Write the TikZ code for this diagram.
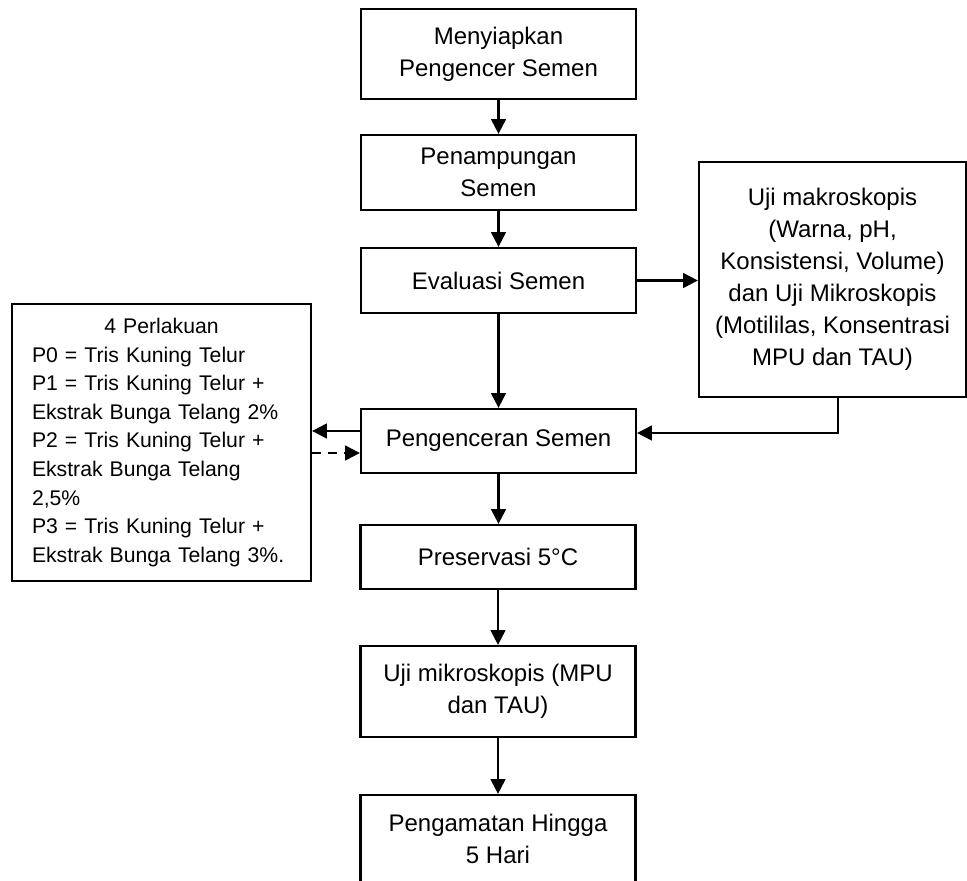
\documentclass[tikz,border=0pt]{standalone}
\usepackage{fontspec}
\setmainfont{Liberation Sans}
\usetikzlibrary{arrows.meta,calc}
\begin{document}
\begin{tikzpicture}[x=0.75pt,y=-0.75pt,
  box/.style={draw,line width=1.7pt,inner sep=0pt,align=center,minimum width=206.25pt,
    font=\fontsize{18pt}{24pt}\selectfont},
  arr/.style={line width=1.6pt,-{Triangle[length=11pt,width=11pt]}},
  darr/.style={arr,dash pattern=on 7pt off 5pt},
]
\useasboundingbox (0,0) rectangle (967,881);
\begin{scope}
\clip (0,0) rectangle (967,881);
\node[box,minimum height=67.5pt] (b1) at (498.5,54) {Menyiapkan\\Pengencer Semen};
\node[box,minimum height=56.25pt] (b2) at (498.5,172.5) {Penampungan\\Semen};
\node[box,minimum height=48.75pt] (ev) at (498.5,280.5) {Evaluasi Semen};
\node[box,minimum height=48pt] (pg) at (498.5,441) {Pengenceran Semen};
\node[box,minimum height=48pt] (pr) at (498,557) {Preservasi 5°C};
\node[box,minimum height=68.25pt] (um) at (498,691.5) {Uji mikroskopis (MPU\\dan TAU)};
\node[box,minimum height=66pt] (ph) at (498,839) {Pengamatan Hingga\\5 Hari};
\node[box,minimum width=200.25pt,minimum height=176.25pt] (rb) at (832.5,279.5)
  {Uji makroskopis\\(Warna, pH,\\Konsistensi, Volume)\\dan Uji Mikroskopis\\(Motililas, Konsentrasi\\MPU dan TAU)};
\node[draw,line width=1.7pt,inner sep=0pt,minimum width=224.25pt,minimum height=207.75pt,
  text width=194.25pt,font=\fontsize{15.9pt}{21.4pt}\selectfont] (lb) at (161.5,442.5)
  {\centering 4 Perlakuan\par\raggedright
   P0 = Tris Kuning Telur\\
   P1 = Tris Kuning Telur +\\
   Ekstrak Bunga Telang 2\%\\
   P2 = Tris Kuning Telur +\\
   Ekstrak Bunga Telang\\
   2,5\%\\
   P3 = Tris Kuning Telur +\\
   Ekstrak Bunga Telang 3\%.\par};
\end{scope}
\draw[arr] (b1.south) -- (b2.north);
\draw[arr] (b2.south) -- (ev.north);
\draw[arr] (ev.south) -- (pg.north);
\draw[arr] (pg.south) -- (pr.north -| pg.south);
\draw[arr] (pr.south) -- (um.north);
\draw[arr] (um.south) -- (ph.north);
\draw[arr] (ev.east) -- (ev.east -| rb.west);
\draw[arr] ([xshift=4pt]rb.south) |- ([yshift=6pt]pg.east);
\draw[arr] ([yshift=7.5pt]pg.west) -- ([yshift=7.5pt]pg.west -| lb.east);
\draw[darr] ([yshift=-9pt]pg.west -| lb.east) -- ([yshift=-9pt]pg.west);
\end{tikzpicture}
\end{document}
